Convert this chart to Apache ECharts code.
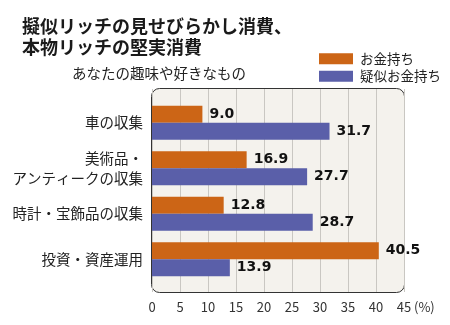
<!DOCTYPE html>
<html><head><meta charset="utf-8">
<script src="https://cdn.jsdelivr.net/npm/echarts@6/dist/echarts.min.js"></script>
<style>html,body{margin:0;padding:0;background:#fff}#c{width:450px;height:325px}</style>
</head><body><div id="c"></div>
<script>
const categories = ['車の収集', '美術品・\nアンティークの収集', '時計・宝飾品の収集', '投資・資産運用'];
const seriesNames = ['お金持ち', '疑似お金持ち'];
const richValues = [9.0, 16.9, 12.8, 40.5];
const pseudoValues = [31.7, 27.7, 28.7, 13.9];
const xTicks = [0, 5, 10, 15, 20, 25, 30, 35, 40, 45];

const JP = '"Noto Sans CJK JP", "Noto Sans", sans-serif';
const chart = echarts.init(document.getElementById('c'), null, {renderer: 'canvas'});
const valLabel = {
  show: true, position: 'right', distance: 7,
  formatter: p => p.value.toFixed(1),
  fontFamily: '"DejaVu Sans", sans-serif', fontWeight: 'bold', fontSize: 14, color: '#111'
};
chart.setOption({
  backgroundColor: '#fff',
  animation: false,
  title: [
    {text: '擬似リッチの見せびらかし消費、\n本物リッチの堅実消費', left: 17, top: 11,
     textStyle: {fontFamily: JP, fontWeight: 'bold', fontSize: 18, lineHeight: 21, color: '#1a1a1a'}},
    {text: 'あなたの趣味や好きなもの', left: 67, top: 61,
     textStyle: {fontFamily: JP, fontWeight: 'normal', fontSize: 14.5, color: '#222'}}
  ],
  legend: {
    orient: 'vertical', left: 314, top: 47, itemWidth: 34, itemHeight: 11, itemGap: 4,
    icon: 'rect', data: seriesNames,
    textStyle: {fontFamily: JP, fontSize: 13.5, color: '#222', padding: [0, 0, 0, 2]}
  },
  graphic: [
    {type: 'rect', z: -10, shape: {x: 151.5, y: 88.5, width: 253, height: 204, r: 8},
     style: {fill: '#f4f2ed', stroke: '#333', lineWidth: 1}},
    {type: 'text', left: 414, top: 301,
     style: {text: '(%)', fontFamily: JP, fontSize: 13, fill: '#333'}}
  ],
  grid: [
    {left: 152, right: 46, top: 89, bottom: 33},
    {left: 152, right: 46, top: 100, bottom: 43}
  ],
  xAxis: [
    {gridIndex: 0, type: 'value', min: 0, max: 45, interval: 5,
     axisLine: {show: false}, axisTick: {show: false},
     splitLine: {lineStyle: {color: '#c9c7c2', width: 1}},
     axisLabel: {margin: 9, fontFamily: JP, fontSize: 13, color: '#333',
       formatter: v => xTicks.includes(v) ? String(v) : ''}},
    {gridIndex: 1, type: 'value', min: 0, max: 45, interval: 5, show: false}
  ],
  yAxis: [
    {gridIndex: 0, type: 'category', data: [''], show: false},
    {gridIndex: 1, type: 'category', data: categories, inverse: true,
     axisLine: {show: false}, axisTick: {show: false}, splitLine: {show: false},
     axisLabel: {margin: 9, fontFamily: JP, fontSize: 14.5, lineHeight: 20, color: '#222', align: 'right'}}
  ],
  series: [
    {name: seriesNames[0], type: 'bar', xAxisIndex: 1, yAxisIndex: 1, data: richValues,
     barWidth: 17, barGap: '0%', itemStyle: {color: '#cc6516'}, label: valLabel},
    {name: seriesNames[1], type: 'bar', xAxisIndex: 1, yAxisIndex: 1, data: pseudoValues,
     barWidth: 17, barGap: '0%', itemStyle: {color: '#5a5fa9'}, label: valLabel}
  ]
});
</script></body></html>
